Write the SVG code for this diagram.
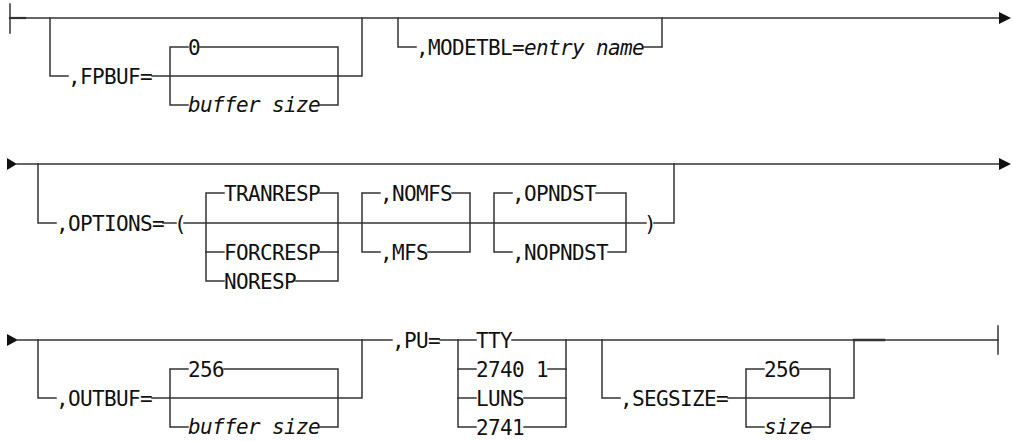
<svg xmlns="http://www.w3.org/2000/svg" width="1013" height="441" viewBox="0 0 1013 441">
<defs>
<style>
.ln{stroke:#333;stroke-width:1.5;fill:none;stroke-linecap:square}
.t{font-family:"DejaVu Sans Mono","Liberation Mono",monospace;font-size:21px;letter-spacing:-0.64px;fill:#111}
.i{font-style:italic}
.ah{fill:#111}
</style>
</defs>
<rect width="1013" height="441" fill="#fff"/>
<g id="connectors">
<!-- Row 1 -->
<line class="ln" x1="10" y1="4" x2="10" y2="33"/>
<line class="ln" x1="10" y1="18" x2="25" y2="18" style="stroke-width:2.2"/>
<line class="ln" x1="10" y1="18" x2="999" y2="18"/>
<polygon class="ah" points="999,12 1011,18 999,24"/>
<polyline class="ln" points="50,18 50,76 68,76"/>
<polyline class="ln" points="152,76 362,76 362,18"/>
<polyline class="ln" points="188,47 170,47 170,105 188,105"/>
<polyline class="ln" points="200,47 338,47 338,105 320,105"/>
<polyline class="ln" points="398,18 398,47 416,47"/>
<polyline class="ln" points="644,47 662,47 662,18"/>
<!-- Row 2 -->
<polygon class="ah" points="7,158 17,164 7,170"/>
<line class="ln" x1="17" y1="164" x2="999" y2="164"/>
<polygon class="ah" points="999,158 1011,164 999,170"/>
<polyline class="ln" points="38,164 38,223 56,223"/>
<line class="ln" x1="163" y1="223" x2="176" y2="223"/>
<line class="ln" x1="184" y1="223" x2="646" y2="223"/>
<polyline class="ln" points="224,193 206,193 206,281 224,281"/>
<line class="ln" x1="206" y1="252" x2="224" y2="252"/>
<polyline class="ln" points="320,193 338,193 338,281 296,281"/>
<line class="ln" x1="320" y1="252" x2="338" y2="252"/>
<polyline class="ln" points="380,193 362,193 362,252 380,252"/>
<polyline class="ln" points="452,193 470,193 470,252 428,252"/>
<polyline class="ln" points="512,193 494,193 494,252 512,252"/>
<polyline class="ln" points="596,193 626,193 626,252 608,252"/>
<polyline class="ln" points="654,223 674,223 674,164"/>
<!-- Row 3 -->
<polygon class="ah" points="7,334 18,340 7,346"/>
<line class="ln" x1="18" y1="340" x2="392" y2="340"/>
<polyline class="ln" points="38,340 38,398 56,398"/>
<polyline class="ln" points="152,398 362,398 362,340"/>
<polyline class="ln" points="188,369 170,369 170,427 188,427"/>
<polyline class="ln" points="224,369 338,369 338,427 320,427"/>
<line class="ln" x1="440" y1="340" x2="476" y2="340"/>
<line class="ln" x1="512" y1="340" x2="998" y2="340"/>
<line class="ln" x1="854" y1="340" x2="884" y2="340" style="stroke-width:2.4"/>
<polyline class="ln" points="476,427 458,427 458,340"/>
<line class="ln" x1="458" y1="369" x2="476" y2="369"/>
<line class="ln" x1="458" y1="398" x2="476" y2="398"/>
<polyline class="ln" points="524,427 566,427 566,340"/>
<line class="ln" x1="548" y1="369" x2="566" y2="369"/>
<line class="ln" x1="524" y1="398" x2="566" y2="398"/>
<polyline class="ln" points="602,340 602,398 620,398"/>
<polyline class="ln" points="728,398 854,398 854,340"/>
<polyline class="ln" points="764,369 746,369 746,427 764,427"/>
<polyline class="ln" points="800,369 830,369 830,427 812,427"/>
<line class="ln" x1="998" y1="326" x2="998" y2="354"/>
</g>
<g id="n-fpbuf"><text class="t" x="68" y="83.5">,FPBUF=</text></g>
<g id="n-fpbuf-0"><text class="t" x="188" y="54.5">0</text></g>
<g id="n-fpbuf-size"><text class="t i" x="188" y="112">buffer size</text></g>
<g id="n-modetbl"><text class="t" x="416" y="54.5">,MODETBL=<tspan class="i">entry name</tspan></text></g>
<g id="n-options"><text class="t" x="56" y="230.5">,OPTIONS=</text></g>
<g id="n-lparen"><text class="t" x="174" y="230.5">(</text></g>
<g id="n-tranresp"><text class="t" x="224" y="200.5">TRANRESP</text></g>
<g id="n-forcresp"><text class="t" x="224" y="259.5">FORCRESP</text></g>
<g id="n-noresp"><text class="t" x="224" y="288.5">NORESP</text></g>
<g id="n-nomfs"><text class="t" x="380" y="200.5">,NOMFS</text></g>
<g id="n-mfs"><text class="t" x="380" y="259.5">,MFS</text></g>
<g id="n-opndst"><text class="t" x="512" y="200.5">,OPNDST</text></g>
<g id="n-nopndst"><text class="t" x="512" y="259.5">,NOPNDST</text></g>
<g id="n-rparen"><text class="t" x="644" y="230.5">)</text></g>
<g id="n-outbuf"><text class="t" x="56" y="405.5">,OUTBUF=</text></g>
<g id="n-outbuf-256"><text class="t" x="188" y="376.5">256</text></g>
<g id="n-outbuf-size"><text class="t i" x="188" y="434">buffer size</text></g>
<g id="n-pu"><text class="t" x="392" y="347.5">,PU=</text></g>
<g id="n-tty"><text class="t" x="476" y="347.5">TTY</text></g>
<g id="n-2740"><text class="t" x="476" y="376.5">2740 1</text></g>
<g id="n-luns"><text class="t" x="476" y="405.5">LUNS</text></g>
<g id="n-2741"><text class="t" x="476" y="434.5">2741</text></g>
<g id="n-segsize"><text class="t" x="620" y="405.5">,SEGSIZE=</text></g>
<g id="n-segsize-256"><text class="t" x="764" y="376.5">256</text></g>
<g id="n-segsize-size"><text class="t i" x="764" y="434">size</text></g>
</svg>
